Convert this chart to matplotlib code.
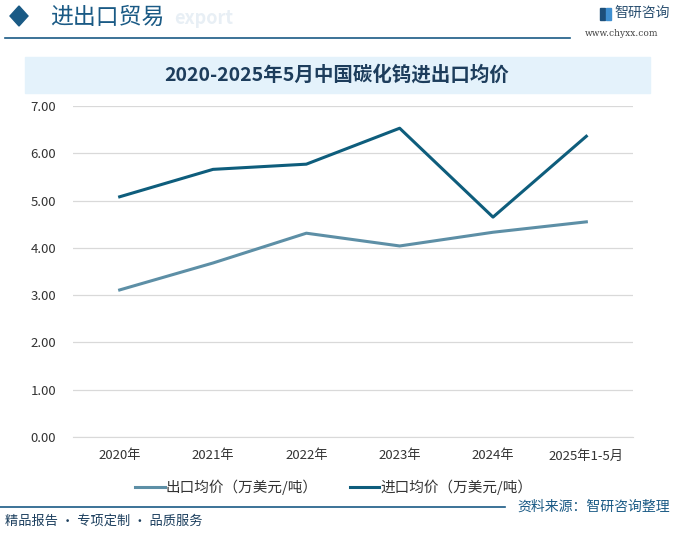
import numpy as np
import matplotlib.pyplot as plt
from matplotlib.patches import Rectangle, Polygon
from matplotlib.lines import Line2D

plt.rcParams['font.family'] = ['Noto Sans CJK SC', 'DejaVu Sans']

years = ['2020年', '2021年', '2022年', '2023年', '2024年', '2025年1-5月']
export_price = [3.11, 3.68, 4.31, 4.04, 4.33, 4.55]
import_price = [5.08, 5.66, 5.77, 6.53, 4.65, 6.36]
yticks = [0, 1, 2, 3, 4, 5, 6, 7]

export_color = '#5d8fa6'
import_color = '#0e5d7c'
dark_blue = '#1a5a85'

fig = plt.figure(figsize=(6.75, 5.34), dpi=100)
W, H = 675, 534


def fx(px):
    return px / W


def fy(py):
    return 1 - py / H


# header
fig.patches.append(Polygon([[fx(10), fy(16)], [fx(19), fy(6)], [fx(28), fy(16)], [fx(19), fy(26)]],
                           closed=True, color=dark_blue, transform=fig.transFigure))
fig.text(fx(174), fy(18), 'export', fontsize=13, color='#e8eff5', fontweight='bold',
         ha='left', va='center')
fig.text(fx(50), fy(17), '进出口贸易', fontsize=16.5, color=dark_blue, ha='left', va='center')
fig.add_artist(Line2D([fx(5), fx(570)], [fy(38), fy(38)], color=dark_blue, lw=1.2))
fig.patches.append(Rectangle((fx(600), fy(20)), 5 / W, 12 / H, color='#1d4f7a',
                             transform=fig.transFigure))
fig.patches.append(Rectangle((fx(606), fy(20)), 5 / W, 12 / H, color='#3f8fd0',
                             transform=fig.transFigure))
fig.text(fx(614), fy(13), '智研咨询', fontsize=10, color='#2a4f70', ha='left', va='center')
fig.text(fx(658), fy(34), 'www.chyxx.com', fontsize=6.5, color='#444444', ha='right',
         va='center', family='DejaVu Serif')

# title band
fig.patches.append(Rectangle((fx(25), fy(93)), 625 / W, 36 / H, color='#e4f2fb',
                             transform=fig.transFigure))
fig.text(fx(337), fy(75), '2020-2025年5月中国碳化钨进出口均价', fontsize=14,
         color='#1d3d5c', ha='center', va='center', fontweight='bold')

ax = fig.add_axes([fx(73), fy(437), 560 / W, 331 / H])
x = np.arange(len(years))
ax.plot(x, export_price, color=export_color, lw=2.2, label='出口均价（万美元/吨）')
ax.plot(x, import_price, color=import_color, lw=2.2, label='进口均价（万美元/吨）')
ax.set_xlim(-0.5, len(years) - 0.5)
ax.set_ylim(0, 7)
ax.set_yticks(yticks)
ax.set_yticklabels(['%.2f' % v for v in yticks])
ax.set_xticks(x)
ax.set_xticklabels(years)
ax.grid(axis='y', color='#d9d9d9', lw=0.9)
ax.set_axisbelow(True)
for s in ['top', 'right', 'left']:
    ax.spines[s].set_visible(False)
ax.spines['bottom'].set_color('#d9d9d9')
ax.tick_params(axis='y', length=0, pad=12, labelsize=9.5, labelcolor='#333333')
ax.tick_params(axis='x', length=0, pad=9, labelsize=9.5, labelcolor='#333333')

fig.legend(loc='center', bbox_to_anchor=(fx(334), fy(487)), ncol=2, frameon=False,
           fontsize=10.5, handlelength=2.0, columnspacing=2.2, handletextpad=0.1,
           labelcolor='#333333')

# footer
fig.add_artist(Line2D([0, fx(505)], [fy(507), fy(507)], color=dark_blue, lw=1.2))
fig.text(fx(670), fy(507), '资料来源：智研咨询整理', fontsize=10, color=dark_blue,
         ha='right', va='center')
fig.text(fx(5), fy(521), '精品报告 · 专项定制 · 品质服务', fontsize=9.5, color='#1c3f5e',
         ha='left', va='center')

fig.savefig('out.png', dpi=100)
